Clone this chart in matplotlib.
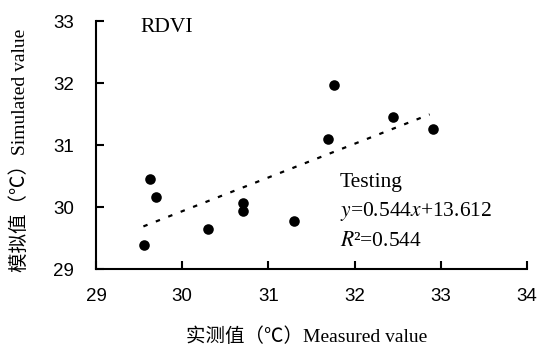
import matplotlib
matplotlib.use("Agg")
import matplotlib.pyplot as plt
import numpy as np

measured = [29.56, 29.63, 29.70, 30.30, 30.70, 30.70, 31.30, 31.69, 31.76, 32.44, 32.91]
simulated = [29.39, 30.45, 30.16, 29.64, 30.07, 29.93, 29.77, 31.10, 31.97, 31.45, 31.26]
slope, intercept = 0.544, 13.612
fit_range = [29.55, 32.87]
xticks = [29, 30, 31, 32, 33, 34]
yticks = [29, 30, 31, 32, 33]

mixed = ['Liberation Serif', 'Noto Sans CJK SC']

fig = plt.figure(figsize=(5.38, 3.5), dpi=100)
ax = fig.add_axes([0.1784, 0.2314, 0.8012, 0.7086])

ax.scatter(measured, simulated, s=58, color='black', zorder=3, linewidths=0)
fx = np.array(fit_range)
ax.plot(fx, slope * fx + intercept, color='black', lw=1.6, linestyle=(0, (2, 4)))

ax.set_xlim(29, 34)
ax.set_ylim(29, 33)
ax.set_xticks(xticks)
ax.set_yticks(yticks)
for sp in ['top', 'right']:
    ax.spines[sp].set_visible(False)
for sp in ['left', 'bottom']:
    ax.spines[sp].set_linewidth(1.5)
ax.tick_params(direction='in', length=6, width=1.5)
ax.tick_params(axis='x', pad=14)
ax.tick_params(axis='y', pad=16)
for lab in ax.get_xticklabels() + ax.get_yticklabels():
    lab.set_fontfamily('Liberation Sans')
    lab.set_fontsize(13.5)

ax.text(29.51, 32.82, 'RDVI', family='Liberation Serif', fontsize=15.5, va='baseline', ha='left')
ax.text(31.83, 30.32, 'Testing', family='Liberation Serif', fontsize=15.5, va='baseline', ha='left')
ax.text(31.83, 29.855, r'$\mathit{y}$=0.544$\mathit{x}$+13.612', family='Liberation Serif',
        fontsize=15.5, va='baseline', ha='left', math_fontfamily='stix')
ax.text(31.83, 29.37, r'$\mathit{R}$²=0.544', family='Liberation Serif',
        fontsize=15.5, va='baseline', ha='left', math_fontfamily='stix')

fig.text(0.570, 0.037, '实测值（℃）Measured value', family=mixed, fontsize=14,
         ha='center', va='center')
fig.text(0.037, 0.571, '模拟值（℃）Simulated value', family=mixed, fontsize=14,
         ha='center', va='center', rotation=90)

fig.savefig('out.png', dpi=100)
